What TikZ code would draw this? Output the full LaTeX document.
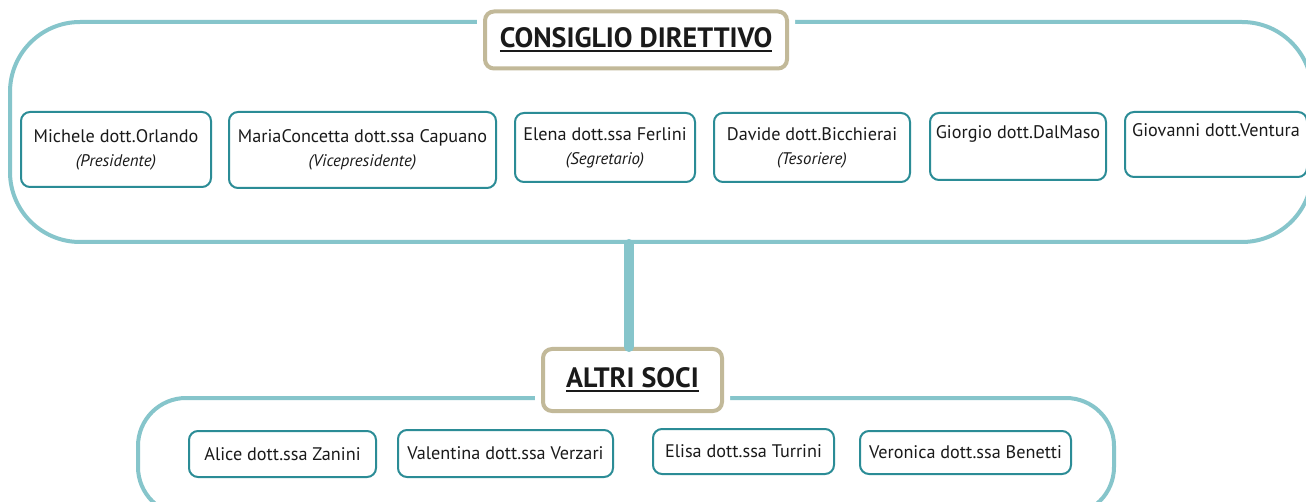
\documentclass[tikz,border=0pt]{standalone}
\usepackage{fontspec}
\setmainfont{PT Sans}
\usetikzlibrary{positioning,calc}
\definecolor{framecol}{HTML}{86C5CB}
\definecolor{boxcol}{HTML}{2B8C96}
\definecolor{headcol}{HTML}{C2B999}
\definecolor{inkcol}{HTML}{1A1A1A}
\newcommand{\carica}[1]{{\fontsize{16.8}{18}\selectfont\itshape #1}}
\newcommand{\sottolinea}[1]{{\setbox0=\hbox{#1}\leavevmode\rlap{\rule[-5pt]{\wd0}{2.5pt}}\box0}}
\tikzset{
    frame/.style={
        rectangle,
        draw=framecol,
        line width=4pt,
    },
    header/.style={
        rectangle,
        draw=headcol,
        line width=4pt,
        fill=white,
        rounded corners=9pt,
        preaction={draw=white,line width=16pt},
        text=inkcol,
        font=\fontsize{28}{30}\selectfont\bfseries,
    },
    member/.style={
        rectangle,
        draw=boxcol,
        line width=2pt,
        fill=white,
        rounded corners=9pt,
        align=center,
        inner sep=0pt,
        text=inkcol,
        font=\fontsize{18.2}{24}\selectfont,
    },
    link/.style={
        draw=framecol,
        line width=10pt,
        line cap=round,
    },
}

\begin{document}
\begin{tikzpicture}[x=1pt,y=-1pt]
    \clip (0,0) rectangle (1306,502);
    \fill[white] (0,0) rectangle (1306,502);
    \node[frame,rounded corners=70pt,minimum width=1302pt,minimum height=220pt](board) at (661,132) {};
    \node[frame,rounded corners=48pt,minimum width=976pt,minimum height=117pt](others) at (626,456.5) {};
    \node[header,minimum width=302pt,minimum height=57pt](cd) at (636,40) {\sottolinea{CONSIGLIO DIRETTIVO}};
    \node[header,minimum width=179pt,minimum height=62pt](soci) at (632.5,380) {\sottolinea{ALTRI SOCI}};
    \draw[link] (soci.north -| 629,0) -- (board.south -| 629,0);
    \node[member,minimum width=190pt,minimum height=75pt](michele) at (116,149.5) {Michele dott.Orlando\\ \carica{(Presidente)}};
    \node[member,minimum width=267pt,minimum height=76pt](maria) at (362.5,150) {MariaConcetta dott.ssa Capuano\\ \carica{(Vicepresidente)}};
    \node[member,minimum width=180pt,minimum height=69pt](elena) at (605,147.5) {Elena dott.ssa Ferlini\\ \carica{(Segretario)}};
    \node[member,minimum width=196pt,minimum height=69pt](davide) at (812,147.5) {Davide dott.Bicchierai\\ \carica{(Tesoriere)}};
    \node[member,minimum width=176pt,minimum height=67pt](giorgio) at (1018,146.5) {Giorgio dott.DalMaso\\ \carica{\strut}};
    \node[member,minimum width=182pt,minimum height=65pt](giovanni) at (1216,144.5) {Giovanni dott.Ventura\\ \carica{\strut}};
    \node[member,minimum width=187pt,minimum height=46pt](alice) at (282.5,454) {Alice dott.ssa Zanini};
    \node[member,minimum width=215pt,minimum height=47pt](valentina) at (505.5,453.5) {Valentina dott.ssa Verzari};
    \node[member,minimum width=181pt,minimum height=45pt](elisa) at (743.5,451.5) {Elisa dott.ssa Turrini};
    \node[member,minimum width=211pt,minimum height=43pt](veronica) at (965.5,452.5) {Veronica dott.ssa Benetti};
\end{tikzpicture}
\end{document}
